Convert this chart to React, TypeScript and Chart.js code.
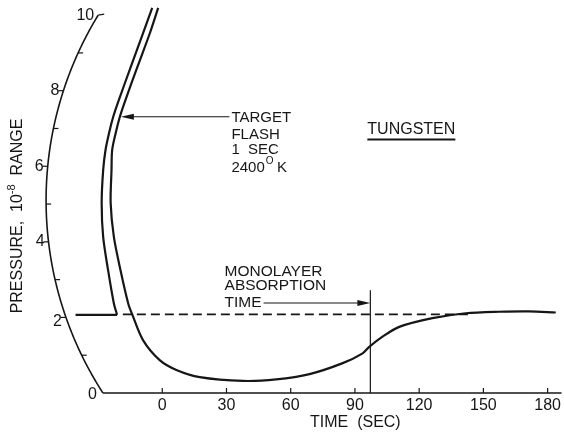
import React, { useEffect, useRef } from "react";
import { Chart, registerables } from "chart.js";

Chart.register(...registerables);

// ---- tick labels ----
const xTicks = [0, 30, 60, 90, 120, 150, 180];
const yTicks = [0, 2, 4, 6, 8, 10];
const yMinorTicks = [1, 3, 5, 7, 9];

// ---- trace values (time in s, pressure in 1e-8 range) ----
const baselineT = [-40.5, -21.1];
const baselineP = [2.07, 2.07];

const riseT = [-21.1, -22.6, -25.3, -27.6, -28.3, -27.6, -26.5, -24.9, -22.9, -20.3, -14.7, -9.0, -4.7];
const riseP = [2.07, 2.37, 3.25, 4.13, 5.03, 5.9, 6.43, 6.87, 7.31, 7.75, 8.63, 9.52, 10.19];

const decayT = [-1.9, -5.8, -11.6, -17.2, -19.8, -21.8, -23.4, -23.7, -24.1, -22.6, -19.5, -15.9, -13.9, -9.0, -1.2, 6.6, 17.5, 37.7, 53.2, 68.8, 84.3, 93.6, 96.7, 102.9, 110.7, 126.2, 141.8, 157.3, 171.3, 183.8];
const decayP = [10.19, 9.52, 8.63, 7.75, 7.31, 6.87, 6.43, 5.9, 5.03, 4.13, 3.25, 2.37, 2.06, 1.4, 0.87, 0.61, 0.42, 0.32, 0.36, 0.5, 0.79, 1.05, 1.22, 1.49, 1.75, 1.98, 2.11, 2.15, 2.16, 2.13];

const equilibriumT = [-18.4, 143.3];
const equilibriumP = [2.08, 2.08];

const monolayerT = [97.2, 97.2];
const monolayerP = [0, 2.72];

// ---- styling / geometry constants ----
const FONT = '"Liberation Sans", "DejaVu Sans", sans-serif';
const INK = "#161616";
const AXIS_ORIGIN_T = -27.7;
const ARC_PIVOT_P = 5.1;
const ARC_R = 355;

const pts = (ts: number[], ps: number[]) => ts.map((t, i) => ({ x: t, y: ps[i] }));

const recorderPlugin = {
  id: "recorder",
  afterDatasetsDraw(chart: any) {
    const { ctx, chartArea } = chart;
    const xs = chart.scales.x;
    const ys = chart.scales.y;
    const px = (t: number) => xs.getPixelForValue(t);
    const py = (p: number) => ys.getPixelForValue(p);

    const ox = px(AXIS_ORIGIN_T);
    const oy = py(0);
    const cy = py(ARC_PIVOT_P);
    const cx = ox + Math.sqrt(ARC_R * ARC_R - (oy - cy) * (oy - cy));
    const arcX = (y: number) => cx - Math.sqrt(ARC_R * ARC_R - (y - cy) * (y - cy));

    ctx.save();
    ctx.strokeStyle = INK;
    ctx.fillStyle = INK;
    ctx.lineCap = "butt";

    // bottom axis
    ctx.lineWidth = 1.4;
    ctx.beginPath();
    ctx.moveTo(ox, oy);
    ctx.lineTo(chartArea.right, oy);
    ctx.stroke();
    ctx.lineWidth = 1.2;
    for (const v of xTicks) {
      const x = px(v);
      ctx.beginPath();
      ctx.moveTo(x, oy);
      ctx.lineTo(x, oy - 5);
      ctx.stroke();
    }

    // curved pressure axis
    ctx.lineWidth = 1.6;
    ctx.beginPath();
    for (let i = 0; i <= 200; i++) {
      const p = (i / 200) * 10;
      const y = py(p);
      const x = arcX(y);
      if (i === 0) ctx.moveTo(x, y);
      else ctx.lineTo(x, y);
    }
    ctx.stroke();

    ctx.lineWidth = 1.2;
    for (const v of yMinorTicks) {
      const y = py(v);
      const x = arcX(y);
      ctx.beginPath();
      ctx.moveTo(x, y);
      ctx.lineTo(x + 5, y);
      ctx.stroke();
    }
    ctx.font = `16px ${FONT}`;
    ctx.textAlign = "right";
    ctx.textBaseline = "middle";
    for (const v of yTicks) {
      const y = py(v);
      const x = arcX(y);
      ctx.beginPath();
      if (v === 10) {
        ctx.moveTo(x, y);
        ctx.lineTo(x + 6, y - 1);
      } else if (v !== 0) {
        ctx.moveTo(x - 5, y);
        ctx.lineTo(x, y);
      }
      ctx.stroke();
      ctx.fillText(String(v), v === 0 ? x - 6 : x - 4, y + (v === 0 ? 2 : v === 2 ? 4 : 0));
    }

    // y title (rotated)
    ctx.save();
    ctx.translate(18, 216);
    ctx.rotate(-Math.PI / 2);
    const big = `16px ${FONT}`;
    const small = `11px ${FONT}`;
    const a = "PRESSURE,  10";
    const b = "-8";
    const c = "  RANGE";
    ctx.font = big;
    const wa = ctx.measureText(a).width;
    const wc = ctx.measureText(c).width;
    ctx.font = small;
    const wb = ctx.measureText(b).width;
    let sx = -(wa + wb + wc) / 2;
    ctx.textAlign = "left";
    ctx.textBaseline = "middle";
    ctx.font = big;
    ctx.fillText(a, sx, 0);
    sx += wa;
    ctx.font = small;
    ctx.fillText(b, sx, -6);
    sx += wb;
    ctx.font = big;
    ctx.fillText(c, sx, 0);
    ctx.restore();

    // x title
    ctx.font = `16px ${FONT}`;
    ctx.textAlign = "center";
    ctx.textBaseline = "middle";
    ctx.fillText("TIME  (SEC)", px(90.2), oy + 30);

    const arrow = (x1: number, x2: number, y: number) => {
      const dir = Math.sign(x2 - x1);
      ctx.lineWidth = 1.1;
      ctx.beginPath();
      ctx.moveTo(x1, y);
      ctx.lineTo(x2 - dir * 10, y);
      ctx.stroke();
      ctx.beginPath();
      ctx.moveTo(x2, y);
      ctx.lineTo(x2 - dir * 13, y - 3);
      ctx.lineTo(x2 - dir * 13, y + 3);
      ctx.closePath();
      ctx.fill();
    };

    // target flash annotation
    ctx.font = `15px ${FONT}`;
    ctx.textAlign = "left";
    ctx.textBaseline = "middle";
    const tx = px(32.3);
    ctx.fillText("TARGET", tx, py(7.29));
    ctx.fillText("FLASH", tx, py(6.83));
    ctx.fillText("1  SEC", tx, py(6.43));
    const ky = py(5.97);
    ctx.fillText("2400", tx, ky);
    const w2400 = ctx.measureText("2400").width;
    ctx.font = `10px ${FONT}`;
    ctx.fillText("O", tx + w2400 + 1, ky - 6);
    ctx.font = `15px ${FONT}`;
    ctx.fillText(" K", tx + w2400 + 8, ky);
    arrow(tx - 2, px(decayT[4]) + 1, py(decayP[4]));

    // tungsten label
    ctx.font = `16px ${FONT}`;
    const ux = px(95.8);
    ctx.fillText("TUNGSTEN", ux, py(6.98));
    const uw = ctx.measureText("TUNGSTEN").width;
    ctx.lineWidth = 2;
    ctx.beginPath();
    ctx.moveTo(ux, py(6.71));
    ctx.lineTo(ux + uw, py(6.71));
    ctx.stroke();

    // monolayer annotation
    ctx.font = `15.5px ${FONT}`;
    const mx = px(29.1);
    ctx.fillText("MONOLAYER", mx, py(3.2));
    ctx.fillText("ABSORPTION", mx, py(2.84));
    ctx.fillText("TIME", mx, py(2.38));
    const wt = ctx.measureText("TIME").width;
    arrow(mx + wt + 2, px(monolayerT[0]), py(2.38));

    ctx.restore();
  },
};

export default function App() {
  const ref = useRef<HTMLCanvasElement>(null);
  useEffect(() => {
    document.body.style.margin = "0";
    const canvas = ref.current;
    if (!canvas) return;
    const line = {
      showLine: true,
      borderColor: INK,
      backgroundColor: INK,
      pointRadius: 0,
      pointHoverRadius: 0,
      fill: false,
    };
    const chart = new Chart(canvas, {
      type: "scatter",
      data: {
        datasets: [
          { ...line, label: "baseline", data: pts(baselineT, baselineP), borderWidth: 2.2, tension: 0 },
          { ...line, label: "rise", data: pts(riseT, riseP), borderWidth: 2.2, tension: 0.3 },
          { ...line, label: "decay", data: pts(decayT, decayP), borderWidth: 2.2, tension: 0.3 },
          { ...line, label: "equilibrium", data: pts(equilibriumT, equilibriumP), borderWidth: 1.7, borderDash: [9, 5], tension: 0 },
          { ...line, label: "monolayer time", data: pts(monolayerT, monolayerP), borderWidth: 1.2, tension: 0 },
        ],
      } as any,
      options: {
        animation: false,
        responsive: true,
        maintainAspectRatio: false,
        layout: { padding: { left: 33.8, right: 1.5, top: 0, bottom: 17.8 } },
        plugins: { legend: { display: false }, tooltip: { enabled: false } },
        scales: {
          x: {
            type: "linear",
            min: -60,
            max: 186.5,
            grid: { display: false, drawTicks: false },
            border: { display: false },
            afterBuildTicks: (axis: any) => {
              axis.ticks = xTicks.map((v) => ({ value: v }));
            },
            ticks: {
              padding: 3,
              color: INK,
              font: { family: FONT, size: 16 },
              maxRotation: 0,
              autoSkip: false,
            },
          },
          y: { type: "linear", min: 0, max: 10.4, display: false },
        },
      } as any,
      plugins: [recorderPlugin],
    });
    return () => chart.destroy();
  }, []);
  return (
    <div style={{ width: 564, height: 436, position: "relative", background: "#fff" }}>
      <canvas ref={ref} />
    </div>
  );
}
